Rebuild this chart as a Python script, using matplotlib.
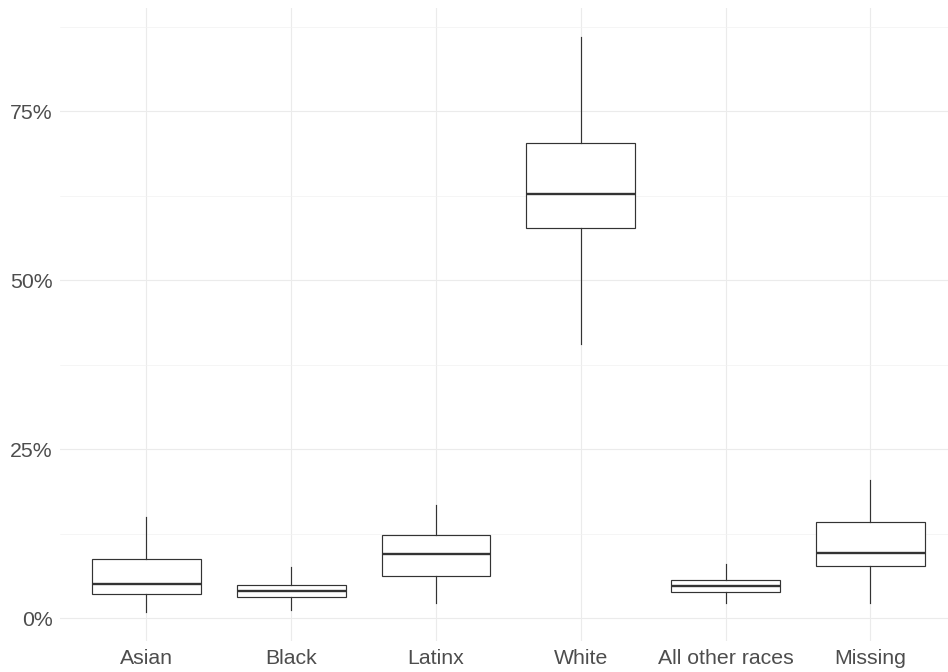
import matplotlib.pyplot as plt
from matplotlib.ticker import FuncFormatter

# share of students by group, in percent
groups = ["Asian", "Black", "Latinx", "White", "All other races", "Missing"]
whislo = [0.9, 1.2, 2.3, 40.6, 2.3, 2.3]
q1 = [3.6, 3.2, 6.3, 57.7, 3.8, 7.65]
med = [5.07, 3.95, 9.47, 62.7, 4.73, 9.7]
q3 = [8.7, 4.98, 12.3, 70.3, 5.72, 14.2]
whishi = [15.0, 7.5, 16.7, 86.0, 8.0, 20.4]

stats = []
for i, g in enumerate(groups):
    stats.append(dict(label=g, whislo=whislo[i], q1=q1[i], med=med[i],
                      q3=q3[i], whishi=whishi[i], fliers=[]))

plt.rcParams['font.family'] = ['Liberation Sans', 'DejaVu Sans']

fig = plt.figure(figsize=(9.48, 6.72), dpi=100)
ax = fig.add_axes([59.6 / 948, 31.5 / 672, 897.6 / 948, 632.5 / 672])

pos = list(range(1, len(groups) + 1))
edge = "#333333"
ax.bxp(stats, positions=pos, widths=0.75, showcaps=False, patch_artist=True,
       boxprops=dict(facecolor="white", edgecolor=edge, linewidth=0.85),
       medianprops=dict(color=edge, linewidth=1.7),
       whiskerprops=dict(color=edge, linewidth=0.85))

ax.set_xlim(0.4, 6.6)
ax.set_ylim(-3.3, 90.25)
ax.set_yticks([0, 25, 50, 75])
ax.set_yticks([12.5, 37.5, 62.5, 87.5], minor=True)
ax.yaxis.set_major_formatter(FuncFormatter(lambda v, p: f"{v:.0f}%"))
ax.set_xticks(pos)
ax.set_xticklabels(groups)

ax.set_axisbelow(True)
ax.grid(which="major", color="#EBEBEB", linewidth=0.8)
ax.grid(which="minor", axis="y", color="#F2F2F2", linewidth=0.5)
ax.tick_params(which="both", length=0, labelsize=15.3, labelcolor="#4D4D4D")
ax.tick_params(axis="x", pad=6)
ax.tick_params(axis="y", pad=5)
for s in ax.spines.values():
    s.set_visible(False)

fig.savefig("out.png", dpi=100)
